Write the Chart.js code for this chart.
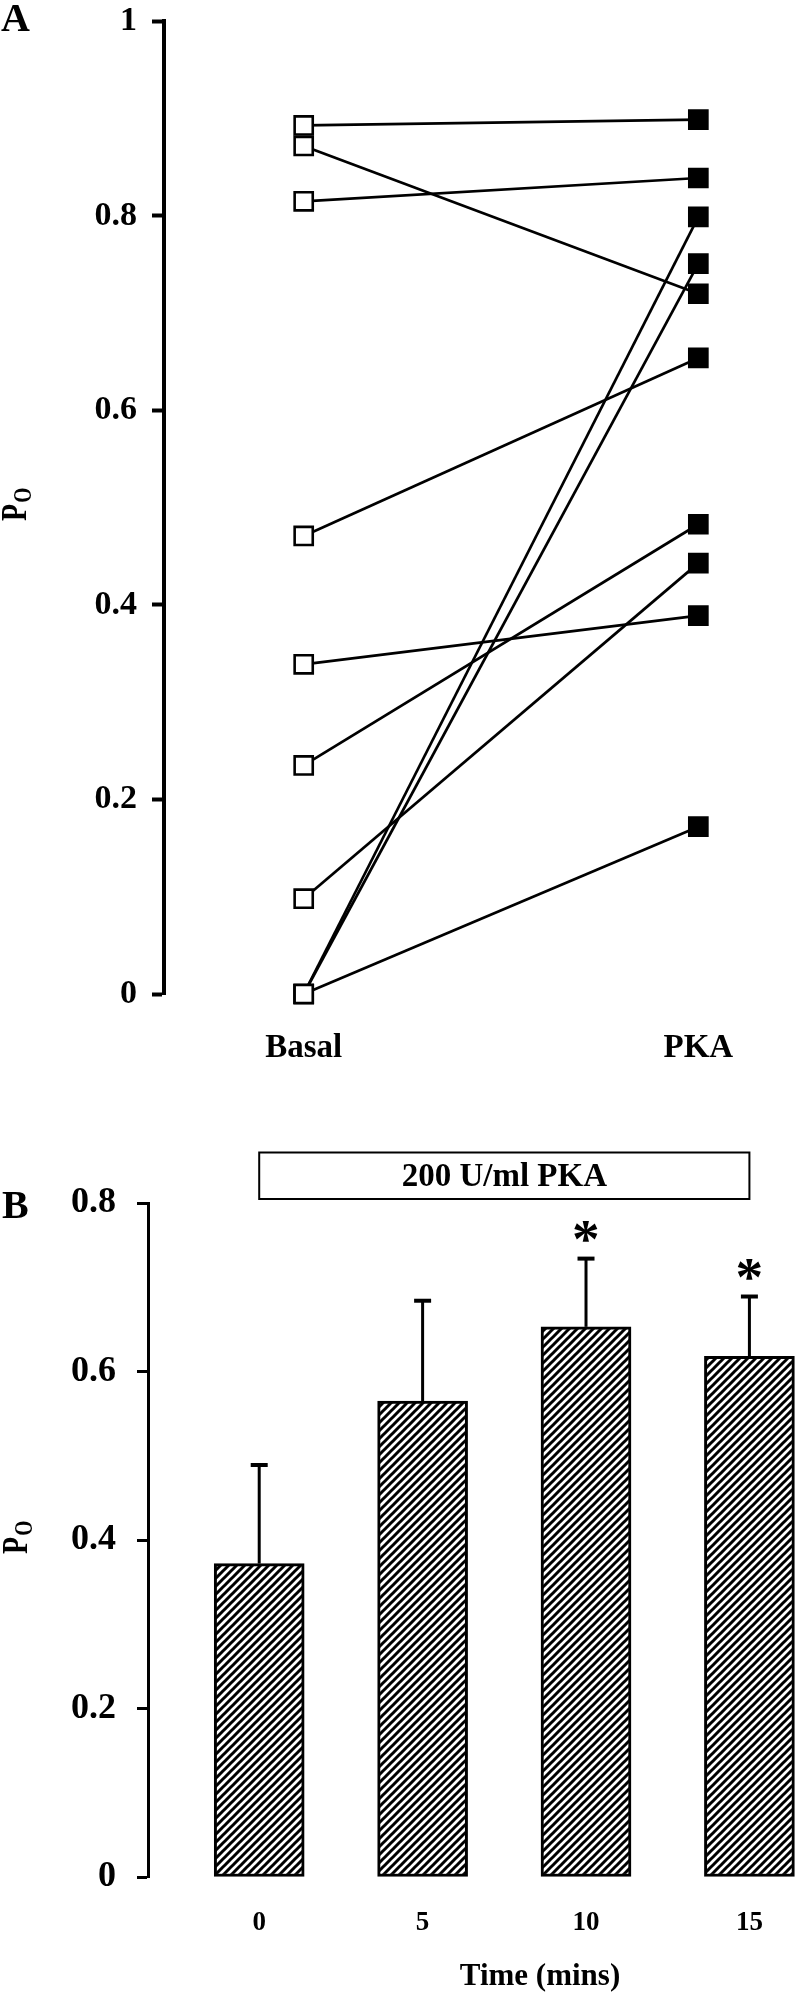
<!DOCTYPE html>
<html><head><meta charset="utf-8">
<script src="https://cdn.jsdelivr.net/npm/chart.js@4.4.1/dist/chart.umd.min.js"></script>
<style>
html,body{margin:0;padding:0;background:#fff;width:800px;height:1994px;overflow:hidden;position:relative}
#ca{position:absolute;left:0;top:-14px}
#cb{position:absolute;left:0;top:1090px}
</style></head><body>
<canvas id="ca" width="800" height="1078"></canvas>
<canvas id="cb" width="800" height="904"></canvas>
<script>
// ---------- Panel A data ----------
const groupLabels = ['Basal', 'PKA'];
const basalPo = [0.893, 0.872, 0.815, 0.471, 0.339, 0.235, 0.098, 0, 0, 0];
const pkaPo   = [0.899, 0.720, 0.839, 0.654, 0.389, 0.483, 0.443, 0.799, 0.751, 0.172];
const yTicksA = [0, 0.2, 0.4, 0.6, 0.8, 1];

// ---------- Panel B data ----------
const times = [0, 5, 10, 15];
const meanPo = [0.372, 0.565, 0.653, 0.618];
const semPo = [0.117, 0.119, 0.081, 0.071];
const significant = [false, false, true, true];
const pkaWindow = [0, 15];
const pkaLabel = '200 U/ml PKA';
const yTicksB = [0, 0.2, 0.4, 0.6, 0.8];

const SERIF = '"Liberation Serif", "Times New Roman", serif';
Chart.defaults.font.family = SERIF;
Chart.defaults.color = '#000';
const fmt = v => String(+v.toFixed(3));

function drawPo(ctx, xB, yS) {
  const sx = 0.78;
  ctx.save();
  ctx.translate(xB, yS);
  ctx.rotate(-Math.PI / 2);
  ctx.scale(sx, 1);
  ctx.fillStyle = '#000';
  ctx.textAlign = 'left';
  ctx.textBaseline = 'alphabetic';
  ctx.font = 'bold 36px ' + SERIF;
  ctx.fillText('P', 0, 0);
  const wP = ctx.measureText('P').width;
  ctx.font = 'bold 25px ' + SERIF;
  ctx.fillText('O', wP + 1 / sx, 5);
  ctx.restore();
}

// ---------- Panel A ----------
const pointSets = [
  { data: basalPo.map(v => ({ x: 0, y: v })), fill: '#fff' },
  { data: pkaPo.map(v => ({ x: 1, y: v })), fill: '#000' }
].map(s => ({
  data: s.data, showLine: false, clip: false,
  pointStyle: 'rect', pointRadius: 12.8, pointHoverRadius: 12.8,
  pointBackgroundColor: s.fill, pointBorderColor: '#000', pointBorderWidth: 2.6
}));
const lineSets = basalPo.map((b, i) => ({
  data: [{ x: 0, y: b }, { x: 1, y: pkaPo[i] }],
  borderColor: '#000', borderWidth: 2.7, pointRadius: 0, clip: false
}));

const panelALabels = {
  id: 'panelALabels',
  afterDraw(chart) {
    const ctx = chart.ctx;
    ctx.save();
    ctx.fillStyle = '#000';
    ctx.font = 'bold 40px ' + SERIF;
    ctx.textAlign = 'left';
    ctx.textBaseline = 'alphabetic';
    ctx.fillText('A', 1, 45);
    ctx.restore();
    drawPo(ctx, 26, 535);
  }
};

new Chart(document.getElementById('ca'), {
  type: 'line',
  data: { datasets: [...pointSets, ...lineSets] },
  options: {
    responsive: false, animation: false, events: [],
    layout: { padding: { top: 25, left: 0, right: 10, bottom: 0 } },
    plugins: { legend: { display: false }, tooltip: { enabled: false } },
    scales: {
      x: {
        type: 'linear', min: -0.354, max: 1.2186,
        afterBuildTicks: s => { s.ticks = groupLabels.map((_, i) => ({ value: i })); },
        afterFit: s => { s.height = 70; },
        grid: { display: false, drawTicks: false },
        border: { display: false },
        ticks: { callback: v => groupLabels[v], font: { size: 33, weight: 'bold' }, padding: 35, maxRotation: 0 }
      },
      y: {
        type: 'linear', min: 0, max: 1,
        afterBuildTicks: s => { s.ticks = yTicksA.map(v => ({ value: v })); },
        afterFit: s => { s.width = 164; },
        grid: { display: true, drawOnChartArea: false, drawTicks: true, tickLength: 12, tickWidth: 4, tickColor: '#000' },
        border: { display: true, width: 4, color: '#000' },
        ticks: { callback: fmt, font: { size: 34, weight: 'bold' }, padding: 15 }
      }
    }
  },
  plugins: [panelALabels]
});

// ---------- Panel B ----------
function hatchPattern() {
  const c = document.createElement('canvas');
  const n = 8;
  c.width = n; c.height = n;
  const g = c.getContext('2d');
  g.fillStyle = '#fff'; g.fillRect(0, 0, n, n);
  g.strokeStyle = '#000'; g.lineWidth = 3;
  g.beginPath();
  g.moveTo(-1, n + 1); g.lineTo(n + 1, -1);
  g.moveTo(-2, 2); g.lineTo(2, -2);
  g.moveTo(n - 2, n + 2); g.lineTo(n + 2, n - 2);
  g.stroke();
  return g.createPattern(c, 'repeat');
}

const panelBExtras = {
  id: 'panelBExtras',
  afterDatasetsDraw(chart) {
    const ctx = chart.ctx, xs = chart.scales.x, ys = chart.scales.y;
    ctx.save();
    ctx.strokeStyle = '#000'; ctx.fillStyle = '#000';
    times.forEach((t, i) => {
      const x = xs.getPixelForValue(t);
      const yb = ys.getPixelForValue(meanPo[i]);
      const yt = ys.getPixelForValue(meanPo[i] + semPo[i]);
      ctx.lineWidth = 3;
      ctx.beginPath(); ctx.moveTo(x, yb); ctx.lineTo(x, yt + 1); ctx.stroke();
      ctx.lineWidth = 4;
      ctx.beginPath(); ctx.moveTo(x - 8.5, yt); ctx.lineTo(x + 8.5, yt); ctx.stroke();
      if (significant[i]) {
        ctx.font = 'bold 100px ' + SERIF;
        let m = ctx.measureText('*');
        const h100 = m.actualBoundingBoxAscent + m.actualBoundingBoxDescent;
        const size = 100 * 21 / h100;
        ctx.font = 'bold ' + size + 'px ' + SERIF;
        m = ctx.measureText('*');
        const cy = yt - 27;
        ctx.textAlign = 'left';
        ctx.textBaseline = 'alphabetic';
        const offY = (m.actualBoundingBoxAscent - m.actualBoundingBoxDescent) / 2;
        const x0 = x - (m.actualBoundingBoxRight - m.actualBoundingBoxLeft) / 2;
        ctx.fillText('*', x0, cy + offY);
      }
    });
    ctx.restore();
  },
  afterDraw(chart) {
    const ctx = chart.ctx, xs = chart.scales.x, area = chart.chartArea;
    ctx.save();
    ctx.fillStyle = '#000'; ctx.strokeStyle = '#000';
    const x1 = xs.getPixelForValue(pkaWindow[0]);
    const x2 = xs.getPixelForValue(pkaWindow[1]);
    const bb = area.top - 4, bt = bb - 46.5;
    ctx.lineWidth = 2;
    ctx.strokeRect(x1, bt, x2 - x1, bb - bt);
    ctx.font = 'bold 33px ' + SERIF;
    ctx.textAlign = 'center'; ctx.textBaseline = 'middle';
    ctx.fillText(pkaLabel, (x1 + x2) / 2, (bt + bb) / 2 + 2);
    ctx.font = 'bold 31px ' + SERIF;
    ctx.fillText('Time (mins)', 540, 887);
    ctx.font = 'bold 40px ' + SERIF;
    ctx.textAlign = 'left'; ctx.textBaseline = 'alphabetic';
    ctx.fillText('B', 2, 128);
    ctx.restore();
    drawPo(ctx, 27, 464);
  }
};

new Chart(document.getElementById('cb'), {
  type: 'bar',
  data: {
    datasets: [{
      data: times.map((t, i) => ({ x: t, y: meanPo[i] })),
      backgroundColor: hatchPattern(), borderColor: '#000', borderWidth: 3,
      borderSkipped: false, barThickness: 90
    }]
  },
  options: {
    responsive: false, animation: false, events: [],
    layout: { padding: { top: 113, left: 0, right: 0, bottom: 0 } },
    plugins: { legend: { display: false }, tooltip: { enabled: false } },
    scales: {
      x: {
        type: 'linear', min: -3.403, max: 16.548, offset: false,
        afterBuildTicks: s => { s.ticks = times.map(v => ({ value: v })); },
        afterFit: s => { s.height = 117; },
        grid: { display: false, drawTicks: false },
        border: { display: false },
        ticks: { callback: fmt, font: { size: 27, weight: 'bold' }, padding: 30, maxRotation: 0 }
      },
      y: {
        type: 'linear', min: 0, max: 0.8,
        afterBuildTicks: s => { s.ticks = yTicksB.map(v => ({ value: v })); },
        afterFit: s => { s.width = 148; },
        grid: { display: true, drawOnChartArea: false, drawTicks: true, tickLength: 11, tickWidth: 3, tickColor: '#000' },
        border: { display: true, width: 3, color: '#000' },
        ticks: { callback: fmt, font: { size: 36, weight: 'bold' }, padding: 21 }
      }
    }
  },
  plugins: [panelBExtras]
});
</script>
</body></html>
